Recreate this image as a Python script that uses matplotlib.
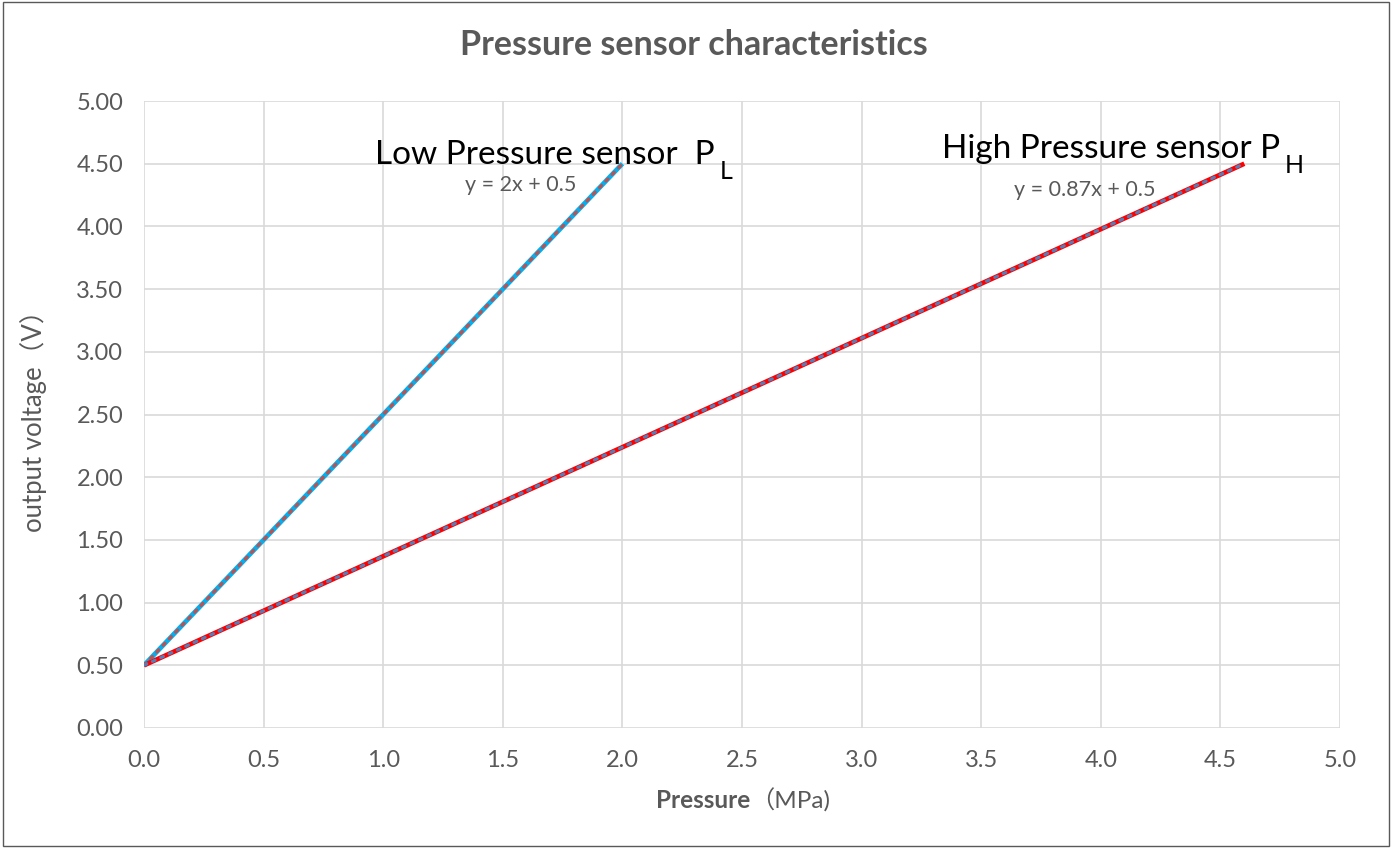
import matplotlib
matplotlib.use("Agg")
import matplotlib.pyplot as plt
import numpy as np
from matplotlib.patches import Rectangle

# Data
low_pressure = [0.0, 2.0]
low_voltage = [0.5, 4.5]
high_pressure = [0.0, 4.6]
high_voltage = [0.5, 4.5]
low_label = "y = 2x + 0.5"
high_label = "y = 0.87x + 0.5"
x_ticks = [0.0, 0.5, 1.0, 1.5, 2.0, 2.5, 3.0, 3.5, 4.0, 4.5, 5.0]
y_ticks = [0.0, 0.5, 1.0, 1.5, 2.0, 2.5, 3.0, 3.5, 4.0, 4.5, 5.0]

plt.rcParams['font.family'] = ['Lato', 'Noto Sans CJK SC', 'DejaVu Sans']

fig = plt.figure(figsize=(13.92, 8.48), dpi=100)
ax = fig.add_axes([144/1392, 1-728/848, (1340-144)/1392, (728-101)/848])

grid_c = '#D9D9D9'
ax.set_xlim(0, 5)
ax.set_ylim(0, 5)
ax.set_xticks(x_ticks)
ax.set_yticks(y_ticks)
ax.set_xticklabels([f"{v:.1f}" for v in x_ticks])
ax.set_yticklabels([f"{v:.2f}" for v in y_ticks])
ax.grid(True, color=grid_c, lw=1.2)
ax.set_axisbelow(True)
for s in ax.spines.values():
    s.set_visible(False)
ax.tick_params(length=0, labelsize=17, colors='#595959')
ax.tick_params(axis='y', pad=15)
ax.tick_params(axis='x', pad=16)

# series
ax.plot(low_pressure, low_voltage, color='#00B0F0', lw=3.4, solid_capstyle='butt', zorder=3)
ax.plot(high_pressure, high_voltage, color='#FF0000', lw=3.4, solid_capstyle='butt', zorder=3)

# trendlines
lc = np.polyfit(low_pressure, low_voltage, 1)
hc = np.polyfit(high_pressure, high_voltage, 1)
xl = np.array(low_pressure)
xh = np.array(high_pressure)
ax.plot(xl, np.polyval(lc, xl), color='#C0504D', lw=2.2, ls=(0, (1, 2)), dash_capstyle='round', zorder=4)
ax.plot(xh, np.polyval(hc, xh), color='#4F81BD', lw=2.2, ls=(0, (1, 2)), dash_capstyle='round', zorder=4)

# annotations
t_low = ax.text(0.966, 4.5, "Low Pressure sensor  P", fontsize=24, color='black',
                ha='left', va='baseline', zorder=5)
t_high = ax.text(3.336, 4.545, "High Pressure sensor P", fontsize=24, color='black',
                 ha='left', va='baseline', zorder=5)
ax.text(1.342, 4.28, low_label, fontsize=15.5, color='#595959', ha='left', va='baseline')
ax.text(3.637, 4.24, high_label, fontsize=15.5, color='#595959', ha='left', va='baseline')

fig.canvas.draw()
r = fig.canvas.get_renderer()
inv = ax.transData.inverted()
for t, sub, yb in [(t_low, "L", 4.5), (t_high, "H", 4.545)]:
    x1 = t.get_window_extent(r).x1
    xd = inv.transform((x1, 0))[0]
    ax.annotate(sub, xy=(xd, yb), xycoords='data', xytext=(5, -15),
                textcoords='offset pixels', fontsize=18, color='black',
                ha='left', va='baseline', zorder=5)

ax.set_ylabel("output voltage（V）", fontsize=18.5, color='#595959')
ax.yaxis.set_label_coords((47 - 144) / 1196, 0.5)

fig.text(694/1392, 1-45/848, "Pressure sensor characteristics", fontsize=24.5, fontweight='bold',
         color='#595959', ha='center', va='center')
fig.text(750/1392, 1-800/848, "Pressure", fontsize=17.5, fontweight='bold', color='#595959',
         ha='right', va='center')
fig.text(750/1392, 1-800/848, "（MPa)", fontsize=17.5, color='#595959', ha='left', va='center')

fig.patches.append(Rectangle((0.002, 0.002), 0.996, 0.996, transform=fig.transFigure,
                             fill=False, edgecolor='#595959', lw=1))

fig.savefig("out.png", dpi=100)
